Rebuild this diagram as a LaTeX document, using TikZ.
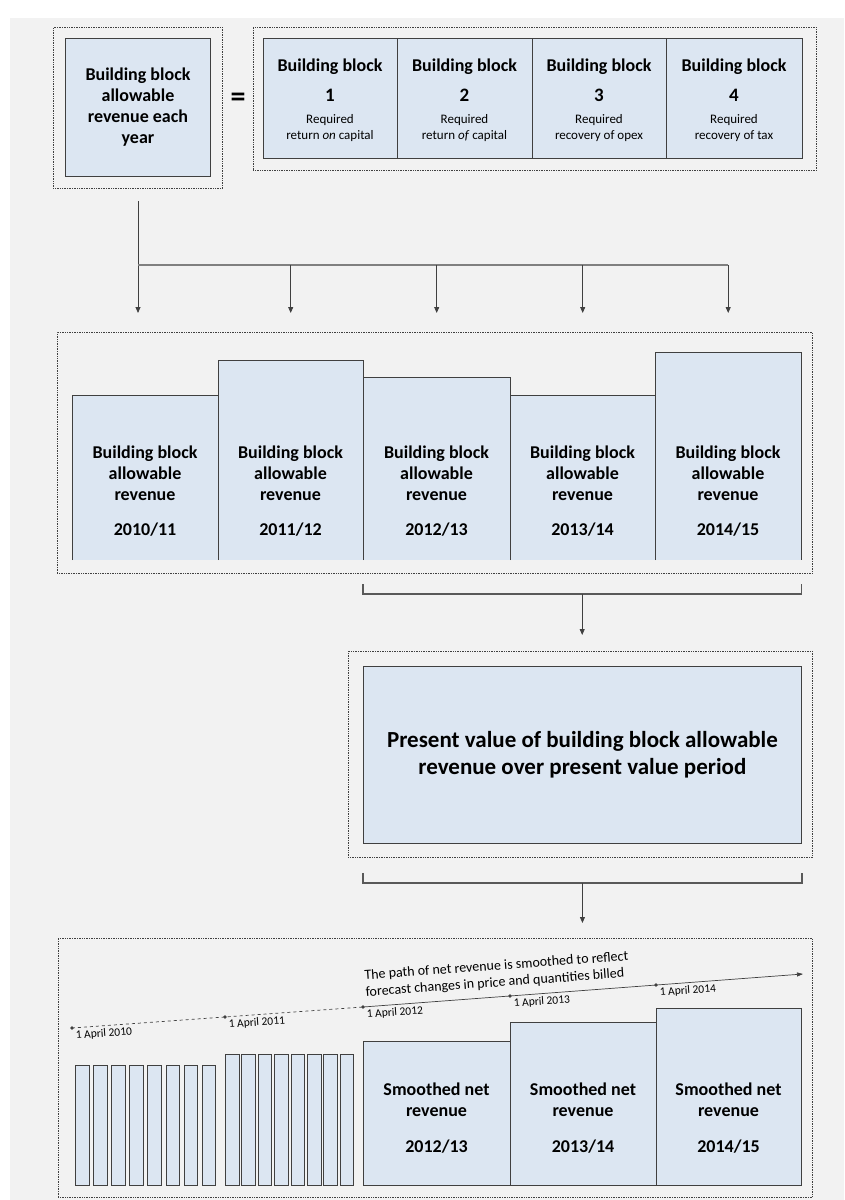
\documentclass[tikz,border=0pt]{standalone}
\usepackage{fontspec}
\setmainfont{Carlito}
\usetikzlibrary{arrows.meta, calc}

\definecolor{paleBlue}{HTML}{DCE6F2}
\definecolor{paperGrey}{HTML}{F2F2F2}
\definecolor{edgeGrey}{HTML}{404040}
\definecolor{midGrey}{HTML}{808080}
\definecolor{darkGrey}{HTML}{595959}

\tikzset{
    blk/.style={draw=edgeGrey, fill=paleBlue, line width=0.9pt, inner sep=0pt},
    openblk/.style={fill=paleBlue, inner sep=0pt},
    dotframe/.style={draw=edgeGrey, densely dotted, line width=0.7pt, inner sep=0pt},
    bigtxt/.style={font=\bfseries\fontsize{18}{21}\selectfont, align=center, inner sep=0pt},
    numtxt/.style={font=\bfseries\fontsize{19}{22}\selectfont, inner sep=0pt},
    smalltxt/.style={font=\fontsize{13}{16}\selectfont, align=center, inner sep=0pt},
    datetxt/.style={font=\fontsize{11.5}{13}\selectfont, inner sep=3pt, rotate=4.2, anchor=north west},
    pathtxt/.style={font=\fontsize{14}{16.7}\selectfont, align=left, inner sep=0pt, rotate=4.2, anchor=south west},
    arr/.style={draw=edgeGrey, line width=0.8pt, -{Triangle[width=5pt,length=6pt]}},
    brk/.style={draw=darkGrey, line width=1.6pt},
}

% one of the four building blocks
\newcommand{\BlockPart}[5]{
    \node[blk, anchor=north west, minimum width={#3-#2}, minimum height=120] (#1) at (#2,38) {};
    \node[bigtxt] (#1head) at ({(#2+#3)/2},67) {Building block};
    \node[numtxt] (#1num) at ({(#2+#3)/2},95) {#4};
    \node[smalltxt] (#1req) at ({(#2+#3)/2},128) {#5};
}
% yearly building block revenue (open at the bottom)
\newcommand{\RevBar}[5]{
    \node[openblk, anchor=south west, minimum width={#3-#2}, minimum height={560-#4}] (#1) at (#2,560) {};
    \draw[edgeGrey, line width=0.9pt] (#1.south west) -- (#1.north west) -- (#1.north east) -- (#1.south east);
    \node[bigtxt] (#1txt) at ({(#2+#3)/2},473) {Building block\\allowable\\revenue};
    \node[bigtxt] (#1yr) at ({(#2+#3)/2},530) {#5};
}
% smoothed yearly revenue
\newcommand{\SmoothBar}[5]{
    \node[blk, anchor=south west, minimum width={#3-#2}, minimum height={1186-#4}] (#1) at (#2,1186) {};
    \node[bigtxt] (#1txt) at ({(#2+#3)/2},1100) {Smoothed net\\revenue};
    \node[bigtxt] (#1yr) at ({(#2+#3)/2},1147) {#5};
}

\begin{document}
\begin{tikzpicture}[x=1pt, y=-1pt]
    \useasboundingbox (0,0) rectangle (844,1200);
    \fill[paperGrey] (10,18) rectangle (844,1200);

    % Allowable revenue = building blocks
    \node[dotframe, anchor=north west, minimum width=169, minimum height=161] (annualFrame) at (53,27) {};
    \node[blk, bigtxt, anchor=north west, minimum width=145, minimum height=138] (annual) at (65,38)
        {Building block\\allowable\\revenue each\\year};
    \node[font=\bfseries\fontsize{30}{30}\selectfont, inner sep=0pt] (equals) at (238,100) {=};
    \node[dotframe, anchor=north west, minimum width=563, minimum height=143] (blockFrame) at (253,27) {};
    \BlockPart{bbOne}{263}{397}{1}{Required\\return \textit{on} capital}
    \BlockPart{bbTwo}{397}{532}{2}{Required\\return \textit{of} capital}
    \BlockPart{bbThree}{532}{666}{3}{Required\\recovery of opex}
    \BlockPart{bbFour}{666}{802}{4}{Required\\recovery of tax}

    % Revenue in each year
    \node[dotframe, anchor=north west, minimum width=755, minimum height=241] (yearFrame) at (57,332) {};
    \RevBar{rev1011}{72}{218}{396}{2010/11}
    \RevBar{rev1112}{218}{363}{361}{2011/12}
    \RevBar{rev1213}{363}{510}{378}{2012/13}
    \RevBar{rev1314}{510}{655}{396}{2013/14}
    \RevBar{rev1415}{655}{801}{353}{2014/15}

    \coordinate (stemTop) at (138,201);
    \coordinate (split) at (138,265);
    \coordinate (tipRow) at (0,313);
    \draw[arr] (stemTop) -- (stemTop |- tipRow);
    \draw[midGrey, line width=2pt] (split) -- (rev1415 |- split);
    \foreach \b in {rev1112, rev1213, rev1314, rev1415}
        \draw[arr] (\b |- split) -- (\b |- tipRow);

    % Present value
    \node[dotframe, anchor=north west, minimum width=464, minimum height=206] (pvFrame) at (348,651) {};
    \node[blk, anchor=north west, minimum width=438, minimum height=177,
        font=\bfseries\fontsize{23}{27}\selectfont, align=center] (pv) at (363,666)
        {Present value of building block allowable\\revenue over present value period};

    \draw[brk] ($(rev1213.south west)+(0,24)$) -- ($(rev1213.south west)+(0,34)$)
        -- ($(rev1415.south east)+(0,34)$) -- ($(rev1415.south east)+(0,24)$);
    \coordinate (braceOne) at ($(rev1213.south west)!0.5!(rev1415.south east)+(0,34)$);
    \draw[arr] (braceOne) -- ($(braceOne |- pvFrame.north)+(0,-16)$);

    \draw[brk] ($(pv.south west)+(0,29)$) -- ($(pv.south west)+(0,39)$)
        -- ($(pv.south east)+(0,39)$) -- ($(pv.south east)+(0,29)$);
    \coordinate (braceTwo) at ($(pv.south)+(0,39)$);

    % Smoothed path
    \node[dotframe, anchor=north west, minimum width=754, minimum height=259] (smoothFrame) at (58,938) {};
    \draw[arr] (braceTwo) -- ($(braceTwo |- smoothFrame.north)+(0,-15)$);

    \foreach \i in {0,...,7} {
        \node[blk, line width=0.8pt, anchor=south west, minimum width=13.6, minimum height=120] (mA\i) at ({75+\i*18.1},1186) {};
        \node[blk, line width=0.8pt, anchor=south west, minimum width=13.6, minimum height=131] (mB\i) at ({225+\i*16.4},1186) {};
    }
    \SmoothBar{sm1213}{363}{510}{1042}{2012/13}
    \SmoothBar{sm1314}{510}{656}{1023}{2013/14}
    \SmoothBar{sm1415}{656}{801}{1009}{2014/15}

    \coordinate (d2010) at (72,1028);
    \coordinate (d2011) at (225,1017);
    \coordinate (d2012) at (363,1007);
    \coordinate (d2013) at (510,996);
    \coordinate (d2014) at (656,985);
    \coordinate (pathEnd) at (803,974);
    \draw[edgeGrey, line width=0.7pt, dashed] (d2010) -- (d2012);
    \draw[edgeGrey, line width=0.7pt, -{Triangle[width=4pt,length=6pt]}] (d2012) -- (pathEnd);
    \foreach \y in {2010, 2011, 2012, 2013, 2014} {
        \fill[edgeGrey] (d\y) circle (1.8pt);
        \node[datetxt] (lbl\y) at (d\y) {1 April \y};
    }
    \node[pathtxt] (pathNote) at (366,999)
        {The path of net revenue is smoothed to reflect\\forecast changes in price and quantities billed};
\end{tikzpicture}
\end{document}
